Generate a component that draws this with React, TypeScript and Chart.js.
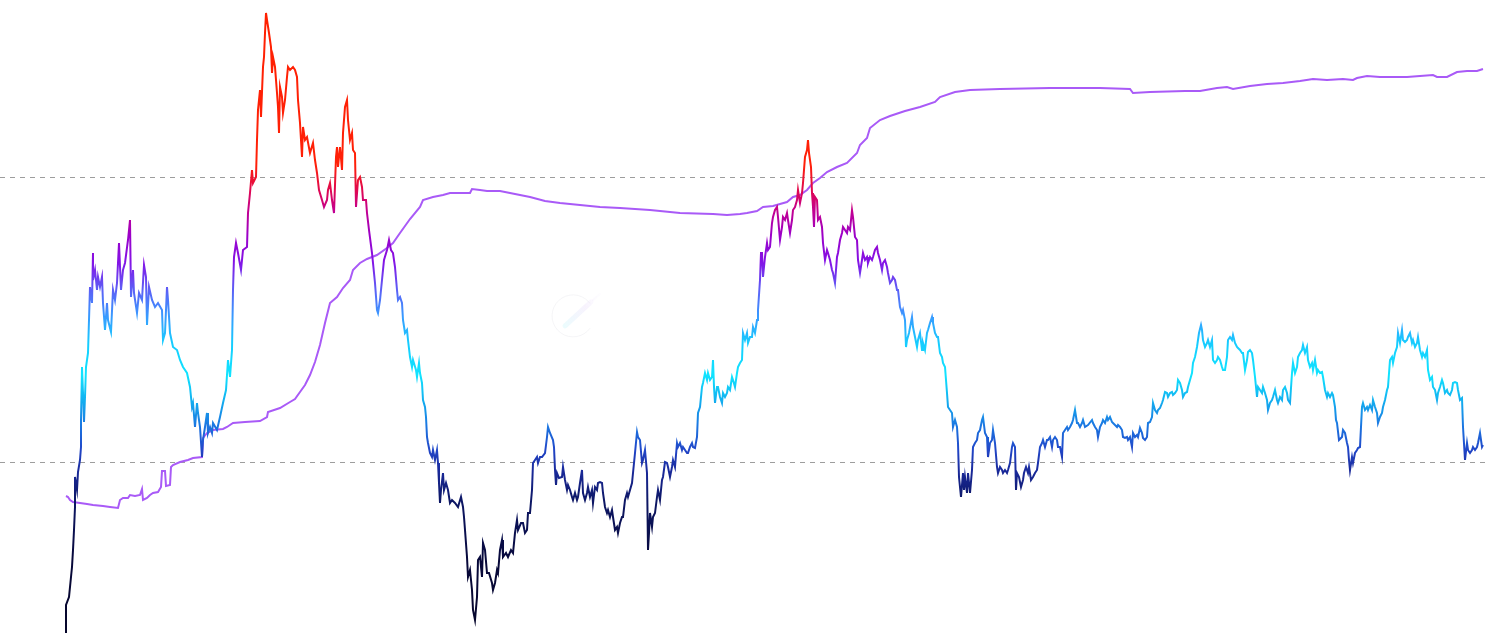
import { useEffect, useRef } from "react";
import { Chart, registerables } from "chart.js";

Chart.register(...registerables);

// [day, level] pairs (level on an arbitrary linear scale)
const priceHistory: [number, number][] = [
  [0,-3],[0,28],[3,36],[5,56],[6,66],[7,83],[8,103],[9,126],[9,156],[11,143],[12,161],[14,173],[15,186],[15,213],[16,266],[17,240],[18,211],[19,236],[20,266],[22,280],
  [23,313],[24,346],[26,330],[27,380],[27,353],[29,363],[31,343],[32,356],[34,346],[36,356],[37,330],[39,303],[41,330],[42,313],[45,301],[47,343],[49,333],[51,350],[53,390],[55,343],
  [57,363],[59,370],[62,393],[64,413],[65,336],[67,363],[68,340],[71,320],[73,340],[76,333],[78,368],[80,356],[81,308],[83,346],[86,333],[89,326],[92,330],[96,323],[97,293],[99,300],
  [101,346],[102,333],[104,300],[107,286],[111,283],[114,273],[117,266],[121,260],[124,246],[126,226],[127,230],[129,206],[131,230],[132,220],[134,206],[136,176],[137,193],[139,206],[141,220],[142,200],
  [144,206],[146,200],[147,210],[151,203],[154,216],[157,230],[160,243],[162,273],[164,256],[166,283],[167,343],[168,376],[170,390],[172,380],[175,363],[177,383],[181,386],[182,420],[184,440],[186,463],
  [187,450],[190,456],[191,493],[192,523],[194,543],[195,516],[197,566],[198,576],[199,600],[200,620],[201,613],[203,600],[205,586],[206,560],[207,576],[209,566],[211,540],[212,526],[213,500],[214,546],
  [216,536],[217,520],[219,533],[221,556],[222,566],[224,563],[227,566],[229,563],[231,556],[232,533],[234,510],[236,476],[237,506],[239,493],[241,496],[244,480],[247,490],[249,473],[251,460],[253,443],
  [256,433],[258,426],[261,433],[262,443],[264,450],[266,433],[268,420],[270,476],[271,486],[272,466],[274,486],[276,463],[277,500],[279,526],[281,533],[282,513],[284,493],[286,500],[287,483],[289,480],
  [290,426],[292,453],[294,456],[296,446],[297,433],[300,433],[301,420],[303,403],[306,380],[307,370],[309,350],[311,323],[312,320],[314,333],[316,353],[318,373],[321,383],[323,393],[325,383],[327,380],
  [329,366],[331,343],[332,333],[334,336],[336,330],[337,313],[339,300],[341,303],[342,293],[344,276],[346,266],[347,273],[350,263],[351,256],[353,270],[354,260],[356,250],[357,233],[359,226],[360,216],
  [361,196],[362,190],[364,180],[366,176],[367,183],[369,173],[371,183],[372,170],[373,150],[374,130],[375,143],[377,160],[378,143],[380,150],[382,143],[384,130],[386,133],[389,130],[392,126],[395,136],
  [397,126],[398,116],[399,103],[401,76],[402,56],[404,63],[406,43],[407,23],[409,13],[411,36],[412,73],[414,76],[416,56],[417,90],[419,83],[421,60],[423,60],[426,50],[427,43],[429,50],
  [431,63],[432,60],[434,83],[436,93],[437,76],[440,80],[442,76],[445,83],[447,80],[449,100],[451,113],[452,103],[455,110],[457,110],[459,100],[461,103],[462,120],[464,120],[466,143],[467,170],
  [469,173],[471,176],[472,170],[474,176],[476,176],[479,180],[481,196],[482,206],[484,200],[487,193],[488,186],[489,163],[490,148],[491,160],[493,155],[496,156],[497,166],[499,153],[501,143],[502,148],
  [504,143],[506,136],[507,133],[509,140],[511,133],[512,136],[514,150],[516,163],[517,140],[519,133],[521,140],[522,146],[524,136],[526,143],[527,130],[529,146],[531,143],[532,150],[534,151],[536,150],
  [537,140],[539,126],[541,120],[542,123],[544,116],[546,123],[547,116],[549,103],[551,106],[552,100],[554,110],[556,116],[557,116],[559,133],[561,140],[562,136],[564,143],[566,150],[567,160],[569,180],
  [571,201],[572,196],[574,193],[576,170],[577,173],[579,183],[581,160],[582,83],[583,100],[584,120],[586,106],[587,116],[589,120],[591,136],[592,143],[594,133],[596,153],[597,156],[599,171],[601,170],
  [602,166],[604,156],[606,166],[607,173],[609,166],[611,190],[612,186],[614,190],[616,183],[617,186],[619,183],[621,180],[622,180],[624,186],[626,190],[627,186],[629,185],[631,196],[632,220],[634,226],
  [636,246],[637,250],[639,260],[641,253],[642,260],[644,253],[646,256],[647,273],[648,246],[649,230],[651,246],[652,246],[654,236],[656,230],[657,240],[659,236],[661,240],[662,246],[664,243],[666,256],
  [667,253],[669,246],[671,260],[672,266],[674,270],[676,273],[677,300],[679,293],[681,300],[682,290],[684,296],[686,296],[687,306],[689,300],[691,313],[692,323],[694,353],[695,380],[696,380],[697,356],
  [699,376],[701,390],[702,383],[704,386],[706,410],[707,416],[709,423],[711,426],[712,416],[714,393],[716,406],[717,416],[719,413],[721,420],[722,413],[724,400],[726,413],[727,423],[729,426],[731,433],
  [732,443],[734,430],[736,440],[737,450],[739,476],[741,483],[742,493],[743,480],[745,466],[746,440],[747,426],[748,406],[749,436],[751,433],[752,413],[754,416],[756,406],[757,390],[759,373],[761,383],
  [762,380],[764,373],[766,363],[767,360],[769,350],[771,376],[772,380],[774,393],[776,400],[777,406],[779,403],[781,400],[782,406],[784,403],[786,423],[787,416],[789,396],[791,393],[792,373],[794,360],
  [796,373],[797,380],[799,373],[801,376],[802,370],[804,376],[806,373],[807,376],[809,383],[811,386],[812,380],[814,373],[816,363],[817,370],[819,373],[821,366],[822,360],[824,350],[826,353],[827,356],
  [829,353],[831,343],[832,343],[834,326],[836,320],[837,323],[839,313],[840,286],[841,293],[843,300],[846,316],[847,306],[849,296],[851,286],[852,293],[854,300],[856,283],[857,290],[859,283],[861,300],
  [862,303],[864,310],[866,316],[867,310],[869,300],[871,296],[872,296],[874,280],[876,276],[877,270],[879,266],[881,240],[882,226],[884,223],[886,220],[887,206],[889,213],[891,206],[892,190],[893,156],
  [895,136],[897,160],[898,143],[899,156],[901,140],[902,160],[904,140],[906,163],[907,186],[909,190],[911,193],[912,200],[914,203],[916,213],[917,216],[919,200],[921,196],[922,176],[924,190],[926,193],
  [927,203],[929,190],[931,166],[932,160],[934,166],[936,163],[937,160],[939,163],[941,160],[942,163],[944,170],[946,186],[947,190],[949,186],[950,143],[951,160],[953,156],[955,146],[957,153],[958,160],
  [960,166],[962,160],[963,166],[965,153],[967,156],[969,160],[971,163],[972,170],[974,186],[976,190],[977,193],[979,186],[981,193],[982,193],[984,196],[986,186],[987,193],[989,196],[991,193],[992,186],
  [994,186],[996,176],[997,200],[999,203],[1001,206],[1002,203],[1004,206],[1006,210],[1007,213],[1009,223],[1011,210],[1012,210],[1014,206],[1016,210],[1017,213],[1019,206],[1022,208],[1026,213],[1027,210],[1029,206],
  [1031,203],[1032,196],[1034,206],[1036,210],[1037,213],[1039,210],[1041,216],[1042,213],[1044,216],[1046,211],[1047,210],[1049,208],[1051,206],[1052,208],[1054,206],[1056,203],[1057,196],[1059,195],[1061,196],[1062,193],
  [1064,196],[1066,186],[1067,200],[1069,196],[1071,198],[1072,196],[1074,205],[1076,200],[1077,195],[1079,193],[1081,196],[1082,210],[1084,211],[1086,216],[1087,230],[1089,223],[1091,220],[1092,223],[1094,225],[1096,230],
  [1097,233],[1099,241],[1101,240],[1102,236],[1104,240],[1106,241],[1107,238],[1109,240],[1111,243],[1112,253],[1114,250],[1116,243],[1117,236],[1119,240],[1121,241],[1122,246],[1124,253],[1126,260],[1127,270],[1129,276],
  [1131,286],[1132,293],[1133,300],[1135,308],[1136,303],[1137,293],[1139,286],[1141,290],[1142,293],[1144,286],[1146,293],[1147,273],[1149,270],[1151,273],[1152,276],[1154,273],[1156,266],[1157,263],[1159,263],[1161,276],
  [1162,293],[1164,296],[1166,293],[1167,298],[1169,290],[1171,286],[1172,285],[1174,283],[1176,280],[1177,280],[1179,263],[1181,273],[1182,281],[1184,283],[1186,280],[1187,273],[1189,256],[1191,236],[1192,246],[1194,243],
  [1196,240],[1197,246],[1199,240],[1201,233],[1202,223],[1204,230],[1206,233],[1207,236],[1209,243],[1211,233],[1212,230],[1214,236],[1216,233],[1217,243],[1219,246],[1221,240],[1222,233],[1224,230],[1226,260],[1227,270],
  [1229,260],[1231,266],[1232,276],[1234,280],[1236,283],[1237,288],[1239,280],[1241,286],[1242,273],[1244,266],[1246,270],[1247,263],[1249,273],[1251,260],[1252,263],[1254,260],[1256,261],[1257,256],[1259,243],[1261,236],
  [1262,240],[1264,236],[1266,240],[1267,238],[1269,226],[1270,213],[1271,210],[1273,193],[1276,196],[1277,203],[1279,200],[1281,190],[1282,186],[1283,173],[1284,163],[1286,176],[1287,170],[1289,180],[1291,183],[1292,185],
  [1294,186],[1296,226],[1297,230],[1299,223],[1301,226],[1302,223],[1304,228],[1306,223],[1307,233],[1309,226],[1311,220],[1312,210],[1314,216],[1316,220],[1317,226],[1319,233],[1321,243],[1322,246],[1324,273],[1326,276],
  [1327,270],[1329,280],[1331,286],[1332,300],[1334,290],[1336,303],[1337,293],[1339,291],[1341,293],[1342,296],[1344,300],[1346,290],[1347,293],[1349,286],[1351,290],[1352,296],[1354,283],[1356,276],[1357,280],[1359,276],
  [1361,283],[1362,263],[1364,253],[1366,256],[1367,246],[1369,243],[1371,233],[1372,240],[1374,246],[1376,253],[1377,250],[1379,240],[1381,243],[1382,240],[1384,238],[1386,243],[1387,250],[1389,251],[1391,250],[1392,243],
  [1394,233],[1396,235],[1397,206],[1399,173],[1401,190],[1402,183],[1404,180],[1406,183],[1407,186],[1409,183],[1411,186],[1412,190],[1414,200],[1416,186],[1417,188],
];

const averageHistory: [number, number][] = [
  [0,137],[2,136],[4,133],[7,131],[14,130],[21,129],[27,128],[37,127],[44,126],[52,125],[54,133],[57,135],[62,135],[64,138],[69,137],[74,138],[76,144],[77,133],[81,135],[84,138],
  [87,140],[92,141],[95,146],[96,162],[99,162],[100,147],[104,148],[105,166],[107,168],[114,171],[122,173],[127,175],[136,176],[137,195],[141,200],[147,203],[157,204],[161,206],[167,210],[179,211],
  [194,212],[201,216],[202,221],[214,225],[224,231],[229,234],[234,241],[239,248],[244,258],[249,271],[254,288],[259,310],[264,330],[271,336],[277,345],[284,353],[287,363],[294,370],[301,374],[311,378],
  [321,385],[327,390],[334,400],[344,414],[354,426],[357,433],[367,436],[377,438],[384,440],[404,440],[406,444],[414,443],[421,442],[434,442],[449,439],[464,436],[479,432],[494,430],[514,428],[534,426],
  [554,425],[584,423],[614,420],[647,419],[661,418],[674,419],[681,420],[691,422],[697,426],[707,427],[714,429],[721,431],[727,436],[734,438],[741,443],[747,450],[754,455],[761,461],[771,466],[781,470],
  [791,480],[794,488],[801,495],[804,505],[814,513],[824,517],[839,522],[854,526],[869,531],[874,536],[889,541],[904,543],[934,544],[984,545],[1034,545],[1064,544],[1067,540],[1084,541],[1119,542],[1134,542],
  [1151,545],[1161,546],[1167,544],[1184,547],[1201,549],[1217,550],[1234,552],[1247,554],[1261,553],[1277,554],[1287,553],[1291,555],[1301,557],[1314,556],[1327,556],[1341,556],[1354,557],[1367,558],[1371,556],[1381,556],
  [1391,561],[1401,562],[1411,562],[1417,564],
];

const dayRange = [-66, 1424];
const levelRange = [0, 633];
const gridLevels = [171, 456];

// colour of the price line by level
const heatLevels = [0, 73, 133, 163, 183, 208, 233, 258, 290, 318, 343, 371, 398, 423, 443, 468, 633];
const heatColors = [
  "#06062a", "#07083a", "#0d1766", "#1a2a9c", "#2146c8", "#1b78e2", "#12b0f0", "#10e4ff",
  "#16ccff", "#3a98ff", "#5c60f6", "#8412e6", "#9c00c8", "#c4008e", "#e00850", "#ff2008", "#ff2000",
];

const averageColor = "#a95af7";

const watermarkPlugin = {
  id: "watermark",
  beforeDatasetsDraw(chart: any) {
    const { ctx, chartArea: a } = chart;
    const cx = a.left + (a.right - a.left) * 0.3846;
    const cy = a.top + (a.bottom - a.top) * 0.499;
    ctx.save();
    ctx.strokeStyle = "rgba(225,225,232,0.35)";
    ctx.lineWidth = 1;
    ctx.beginPath();
    ctx.arc(cx, cy, 21, 0.2 * Math.PI, 1.8 * Math.PI);
    ctx.stroke();
    const g = ctx.createLinearGradient(cx - 8, cy + 10, cx + 27, cy - 20);
    g.addColorStop(0, "rgba(200,245,250,0.35)");
    g.addColorStop(0.6, "rgba(230,215,250,0.3)");
    g.addColorStop(1, "rgba(235,225,250,0.08)");
    ctx.strokeStyle = g;
    ctx.lineCap = "round";
    ctx.lineWidth = 5;
    ctx.beginPath();
    ctx.moveTo(cx - 8, cy + 10);
    ctx.lineTo(cx + 18, cy - 14);
    ctx.stroke();
    ctx.lineWidth = 2;
    ctx.beginPath();
    ctx.moveTo(cx + 20, cy - 16);
    ctx.lineTo(cx + 27, cy - 22);
    ctx.stroke();
    ctx.restore();
  },
};

export default function App() {
  const canvasRef = useRef<HTMLCanvasElement>(null);

  useEffect(() => {
    document.body.style.margin = "0";
    const canvas = canvasRef.current;
    if (!canvas) return;

    const heatGradient = (context: any) => {
      const chart = context.chart;
      const { chartArea, scales } = chart;
      if (!chartArea || !scales.y) return heatColors[3];
      const g = chart.ctx.createLinearGradient(0, chartArea.bottom, 0, chartArea.top);
      const h = chartArea.bottom - chartArea.top;
      heatLevels.forEach((lv, i) => {
        const p = (chartArea.bottom - scales.y.getPixelForValue(lv)) / h;
        g.addColorStop(Math.min(1, Math.max(0, p)), heatColors[i]);
      });
      return g;
    };

    const chart = new Chart(canvas, {
      type: "line",
      data: {
        datasets: [
          {
            label: "Price",
            data: priceHistory.map(([d, v]) => ({ x: d, y: v })),
            borderColor: heatGradient,
            borderWidth: 2,
            pointRadius: 0,
            tension: 0,
            fill: false,
          },
          {
            label: "Average",
            data: averageHistory.map(([d, v]) => ({ x: d, y: v })),
            borderColor: averageColor,
            borderWidth: 2,
            pointRadius: 0,
            tension: 0,
            fill: false,
          },
        ],
      },
      options: {
        animation: false,
        responsive: false,
        devicePixelRatio: 1,
        layout: { padding: 0 },
        plugins: {
          legend: { display: false },
          tooltip: { enabled: false },
        },
        scales: {
          x: {
            type: "linear",
            min: dayRange[0],
            max: dayRange[1],
            display: false,
          },
          y: {
            type: "linear",
            min: levelRange[0],
            max: levelRange[1],
            afterBuildTicks: (scale: any) => {
              scale.ticks = gridLevels.map((v) => ({ value: v }));
            },
            ticks: { display: false },
            grid: { color: "rgba(140,140,140,0.85)", lineWidth: 1, drawTicks: false },
            border: { display: false, dash: [5, 5] },
          },
        },
      },
      plugins: [watermarkPlugin],
    });

    return () => chart.destroy();
  }, []);

  return (
    <div style={{ width: 1490, height: 633 }}>
      <canvas ref={canvasRef} width={1490} height={633} style={{ display: "block" }} />
    </div>
  );
}
